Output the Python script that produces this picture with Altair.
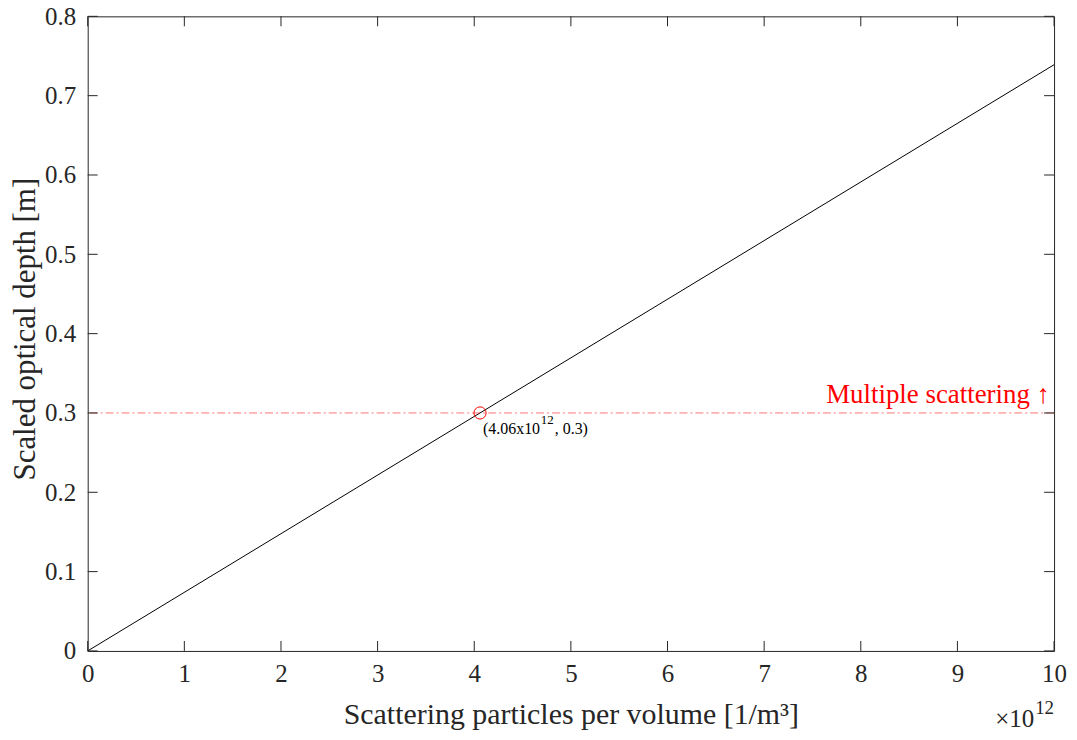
import altair as alt
import pandas as pd

# ---- data ----
x_line = [0, 10]            # scattering particles per volume (x 1e12)
y_line = [0, 0.739]         # scaled optical depth [m]
threshold_y = [0.3]
cross_x = [4.06]
cross_y = [0.3]
cross_main = ["(4.06x10"]
cross_sup = ["12"]
cross_tail = [", 0.3)"]
thr_label = ["Multiple scattering ↑"]
x_ticks = list(range(0, 11))
y_ticks = [0, 0.1, 0.2, 0.3, 0.4, 0.5, 0.6, 0.7, 0.8]

FONT = "Liberation Serif"
AX = "#262626"
W, H = 970, 637

df_line = pd.DataFrame({"x": x_line, "y": y_line})
df_thr = pd.DataFrame({"y": threshold_y, "x": [10], "t": thr_label})
df_pt = pd.DataFrame({"x": cross_x, "y": cross_y, "a": cross_main,
                      "b": cross_sup, "c": cross_tail})
df_xt = pd.DataFrame({"v": x_ticks})
df_yt = pd.DataFrame({"v": y_ticks})

xs = alt.Scale(domain=[0, 10], nice=False)
ys = alt.Scale(domain=[0, 0.8], nice=False)

xaxis = alt.Axis(
    title="Scattering particles per volume [1/m³]",
    values=x_ticks, ticks=False, domain=False, grid=False, labelFlush=False,
    labelFont=FONT, labelFontSize=25, labelColor=AX, labelPadding=11,
    titleFont=FONT, titleFontSize=30, titleFontWeight="normal", titleColor=AX,
    titleBaseline="alphabetic", titleY=73, titleX=W / 2,
)
yaxis = alt.Axis(
    title="Scaled optical depth [m]",
    values=y_ticks, ticks=False, domain=False, grid=False, labelFlush=False,
    labelExpr="datum.value == 0 ? '0' : format(datum.value, '.1f')",
    labelFont=FONT, labelFontSize=25, labelColor=AX, labelPadding=12,
    titleFont=FONT, titleFontSize=31, titleFontWeight="normal", titleColor=AX,
    titleBaseline="alphabetic", titleX=-53, titleY=H / 2 - 5, titleAngle=-90,
)


def X(f):
    return alt.X(f, scale=xs, axis=xaxis)


def Y(f):
    return alt.Y(f, scale=ys, axis=yaxis)


line = alt.Chart(df_line).mark_line(color="black", strokeWidth=1).encode(
    x=X("x:Q"), y=Y("y:Q"))

thr = alt.Chart(df_thr).mark_rule(color="red", opacity=0.55, strokeWidth=1,
                                  strokeDash=[8, 3, 2, 3]).encode(y=Y("y:Q"))

thr_text = alt.Chart(df_thr).mark_text(
    align="right", baseline="alphabetic", dx=-4, dy=-10,
    font=FONT, fontSize=27, color="red").encode(
    x=X("x:Q"), y=Y("y:Q"), text="t:N")

pt = alt.Chart(df_pt).mark_point(shape="circle", filled=False, color="red",
                                 size=150, strokeWidth=1, opacity=1).encode(
    x=X("x:Q"), y=Y("y:Q"))

pt_a = alt.Chart(df_pt).mark_text(
    align="left", baseline="alphabetic", dx=3, dy=21,
    font=FONT, fontSize=16, color="black").encode(
    x=X("x:Q"), y=Y("y:Q"), text="a:N")
pt_b = alt.Chart(df_pt).mark_text(
    align="left", baseline="alphabetic", dx=61, dy=11,
    font=FONT, fontSize=13, color="black").encode(
    x=X("x:Q"), y=Y("y:Q"), text="b:N")
pt_c = alt.Chart(df_pt).mark_text(
    align="left", baseline="alphabetic", dx=75, dy=21,
    font=FONT, fontSize=16, color="black").encode(
    x=X("x:Q"), y=Y("y:Q"), text="c:N")

df_mult = pd.DataFrame({"x": [10], "a": ["×10"], "b": ["12"]})
mult_a = alt.Chart(df_mult).mark_text(
    align="right", baseline="alphabetic", font=FONT, fontSize=25, color=AX, dx=-20).encode(
    x=X("x:Q"), y=alt.value(H + 76), text="a:N")
mult_b = alt.Chart(df_mult).mark_text(
    align="right", baseline="alphabetic", font=FONT, fontSize=19, color=AX, dx=0).encode(
    x=X("x:Q"), y=alt.value(H + 63), text="b:N")

xt_b = alt.Chart(df_xt).mark_rule(color=AX, strokeWidth=1).encode(
    x=X("v:Q"), y=alt.value(H), y2=alt.value(H - 10))
xt_t = alt.Chart(df_xt).mark_rule(color=AX, strokeWidth=1).encode(
    x=X("v:Q"), y=alt.value(0), y2=alt.value(10))
yt_l = alt.Chart(df_yt).mark_rule(color=AX, strokeWidth=1).encode(
    y=Y("v:Q"), x=alt.value(0), x2=alt.value(10))
yt_r = alt.Chart(df_yt).mark_rule(color=AX, strokeWidth=1).encode(
    y=Y("v:Q"), x=alt.value(W - 10), x2=alt.value(W))

chart = alt.layer(line, thr, xt_b, xt_t, yt_l, yt_r, pt, pt_a, pt_b, pt_c,
                  thr_text, mult_a, mult_b).properties(
    width=W, height=H,
    autosize=alt.AutoSizeParams(type="none"),
    padding={"left": 80, "top": 7, "right": 15, "bottom": 80},
    background="white",
).configure_view(stroke=AX, strokeWidth=1)

chart.save("out.html", embed_options={"renderer": "svg", "actions": False})
